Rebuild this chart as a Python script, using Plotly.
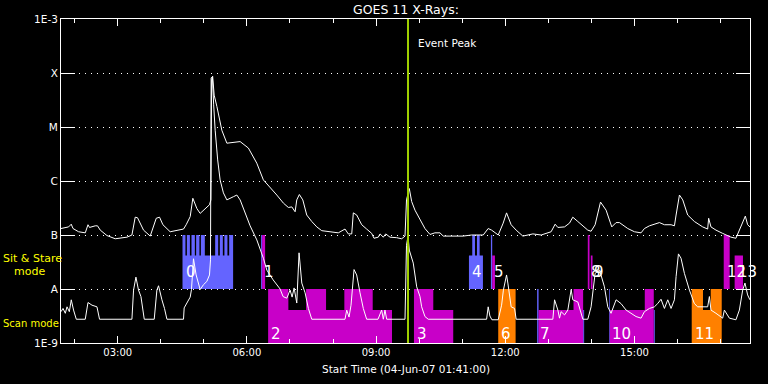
import numpy as np
import plotly.graph_objects as go

# ---------------- data ----------------
title_text = "GOES 11 X-Rays:"
x_title = "Start Time (04-Jun-07 01:41:00)"
start_clock = "01:41"
span_minutes = 960
x_tick_labels = ["03:00", "06:00", "09:00", "12:00", "15:00"]
y_tick_values = [1e-9, 1e-8, 1e-7, 1e-6, 1e-5, 1e-4, 1e-3]
y_tick_labels = ["1E-9", "A", "B", "C", "M", "X", "1E-3"]

# long channel (1-8 A): minutes after start, log10 flux (W/m^2)
long_min = [0, 6.0, 10.6, 14.3, 16.7, 24.5, 33.8, 37.6, 39.8, 47.7, 50.9, 54.7, 64.0, 75.6, 91.9,
            98.8, 103.4, 106.6, 115.0, 124.3, 132.7, 137.3, 142.0, 152.1, 166.1, 170.7, 174.4,
            180.0, 183.7, 189.3, 193.9, 200.9, 206.9, 208.8, 209.9, 211.3, 213.4, 217.2, 221.7,
            224.1, 231.1, 240.3, 249.6, 261.1, 272.8, 282.0, 291.3, 300.7, 309.9, 316.8, 321.6,
            326.2, 328.5, 332.1, 336.9, 342.4, 349.4, 356.4, 363.3, 374.9, 386.4, 395.7, 400.3,
            405.1, 407.3, 412.0, 419.0, 425.9, 432.9, 436.1, 442.1, 444.5, 449.1, 452.4, 458.4,
            467.7, 474.7, 479.3, 481.4, 485.3, 488.6, 493.2, 500.2, 507.1, 514.1, 521.0, 528.0,
            532.6, 541.9, 560.4, 572.1, 588.3, 595.2, 600.0, 609.2, 616.1, 620.8, 627.2, 634.2,
            643.5, 657.5, 669.0, 682.9, 688.5, 692.3, 701.6, 708.5, 713.1, 720.1, 734.0, 738.6,
            744.2, 751.7, 759.5, 767.4, 773.4, 778.1, 789.7, 799.0, 808.2, 812.9, 819.9, 833.8,
            840.8, 850.0, 854.7, 857.0, 861.7, 866.3, 873.2, 882.5, 894.1, 901.0, 902.4, 905.6,
            912.6, 921.9, 928.8, 933.5, 940.4, 945.2, 949.8, 953.5, 956.7, 959.9]
long_log = [-6.88, -6.86, -6.85, -6.80, -6.88, -6.94, -6.96, -6.81, -6.86, -6.83, -6.83, -6.91, -7.01,
            -7.07, -7.04, -7.00, -6.67, -6.68, -6.91, -7.02, -6.69, -6.67, -6.81, -6.94, -6.91, -6.89,
            -6.81, -6.66, -6.32, -6.51, -6.60, -6.51, -6.44, -6.35, -4.13, -4.06, -4.41, -4.62, -4.87,
            -5.06, -5.30, -5.29, -5.27, -5.39, -5.67, -5.98, -6.11, -6.26, -6.41, -6.49, -6.48, -6.57,
            -6.35, -6.25, -6.35, -6.63, -6.75, -6.85, -6.92, -6.94, -6.96, -6.89, -6.98, -6.98, -6.59,
            -6.63, -6.81, -6.89, -6.97, -7.06, -7.04, -6.98, -7.04, -6.98, -7.04, -7.05, -7.07, -7.02,
            -6.35, -6.14, -6.38, -6.54, -6.72, -6.88, -6.99, -6.96, -6.96, -7.02, -7.02, -7.02, -7.00,
            -7.00, -6.88, -6.91, -7.00, -6.78, -6.59, -6.81, -6.91, -7.02, -6.98, -7.00, -6.94, -6.80,
            -6.86, -6.85, -6.78, -6.67, -6.75, -6.91, -6.93, -6.81, -6.39, -6.54, -6.85, -6.77, -6.77,
            -6.88, -6.94, -6.96, -6.88, -6.83, -6.77, -6.81, -6.81, -6.83, -6.63, -6.26, -6.35, -6.63,
            -6.75, -6.85, -6.89, -6.69, -6.85, -6.91, -6.97, -7.02, -7.04, -7.06, -6.91, -6.78, -6.65,
            -6.81, -6.85]

# short channel (0.5-4 A)
short_min = [0, 2.8, 6.0, 8.4, 11.6, 14.3, 17.5, 21.3, 33.8, 37.6, 43.2, 50.1, 53.7, 98.8, 101.1,
             104.4, 108.0, 111.4, 116.0, 129.9, 133.6, 135.9, 140.6, 144.2, 147.6, 170.7, 171.6,
             180.0, 181.8, 184.6, 188.3, 193.9, 198.5, 203.2, 206.9, 208.3, 209.2, 211.0, 212.7,
             214.8, 218.3, 221.7, 226.3, 231.1, 240.3, 245.0, 249.6, 258.9, 263.5, 272.8, 282.0,
             286.8, 295.5, 305.3, 309.4, 314.6, 319.2, 322.0, 324.8, 328.5, 331.7, 335.5, 340.1,
             344.7, 349.4, 395.7, 398.1, 401.3, 404.1, 408.3, 412.0, 416.6, 421.2, 425.9, 441.7,
             446.8, 449.1, 451.4, 453.8, 479.3, 481.4, 483.5, 485.3, 490.8, 495.6, 500.2, 502.5,
             507.1, 511.7, 593.0, 595.2, 597.6, 600.4, 609.2, 613.9, 616.4, 618.5, 620.8, 622.6,
             627.2, 632.0, 634.2, 685.3, 687.7, 692.3, 694.6, 696.8, 701.6, 706.2, 710.8, 713.1,
             720.1, 727.1, 734.0, 738.6, 744.2, 750.4, 757.2, 761.8, 766.4, 773.4, 780.3, 787.3,
             794.2, 801.2, 808.2, 812.9, 819.9, 826.8, 831.4, 836.0, 840.8, 845.4, 850.0, 854.7,
             857.0, 860.3, 863.9, 868.6, 875.6, 882.5, 887.1, 901.0, 903.4, 905.6, 912.6, 921.9,
             924.3, 931.3, 940.4, 945.2, 949.8, 953.0, 956.7, 959.9]
short_log = [-8.42, -8.36, -8.45, -8.33, -8.42, -8.20, -8.39, -8.56, -8.56, -8.25, -8.30, -8.33, -8.56,
             -8.56, -8.02, -7.78, -8.02, -8.14, -8.56, -8.56, -8.02, -7.94, -8.20, -8.36, -8.56, -8.56,
             -8.35, -8.15, -8.01, -7.44, -7.74, -8.01, -7.92, -7.86, -7.74, -7.46, -4.09, -4.07, -4.59,
             -5.06, -5.61, -5.98, -6.22, -6.35, -6.29, -6.26, -6.35, -6.66, -6.83, -7.09, -7.43, -7.65,
             -7.83, -8.00, -8.14, -8.17, -8.02, -8.15, -7.98, -8.26, -7.33, -7.89, -8.07, -8.36, -8.56,
             -8.56, -8.39, -8.52, -8.30, -7.64, -7.74, -8.07, -8.36, -8.56, -8.56, -8.39, -8.56, -8.39,
             -8.56, -8.56, -7.19, -7.02, -7.28, -7.52, -7.96, -8.14, -8.33, -8.51, -8.56, -8.56, -8.33,
             -8.50, -8.57, -8.57, -8.30, -8.02, -7.89, -7.74, -7.89, -8.33, -8.36, -8.56, -8.56, -8.20,
             -8.39, -8.54, -8.42, -8.48, -8.39, -8.01, -8.20, -8.24, -8.56, -8.56, -8.33, -7.71, -7.65,
             -7.96, -8.33, -8.45, -8.20, -8.27, -8.39, -8.45, -8.51, -8.54, -8.42, -8.36, -8.33, -8.27,
             -8.19, -8.36, -8.20, -8.36, -8.20, -7.77, -7.35, -7.43, -7.71, -8.02, -8.27, -8.33, -8.33,
             -8.14, -8.39, -8.45, -8.54, -8.39, -8.54, -8.57, -8.39, -8.02, -7.89, -8.11, -8.20]

event_peak_min = 483.5
event_label = "Event Peak"

# observation segments: start/end (minutes after start), mode, coverage, kind
seg_start = [169.3, 169.3, 175.4, 181.8, 188.3, 194.9, 214.8, 221.3, 227.7, 234.3,
             278.8, 280.2,
             288.6, 316.8, 341.5, 369.3, 394.8, 434.3,
             491.8, 518.7,
             568.4, 573.0, 579.6,
             599.0, 600.8,
             609.2,
             663.4, 665.4, 714.1, 727.5,
             734.0, 738.2,
             763.7, 764.7, 813.4, 825.9,
             878.8, 894.5, 905.3,
             923.4, 938.6]
seg_end = [239.8, 173.4, 179.6, 186.5, 192.9, 200.4, 219.0, 225.5, 231.9, 239.8,
           280.2, 284.4,
           316.8, 341.5, 369.3, 394.8, 434.3, 461.2,
           518.7, 546.5,
           587.9, 576.8, 583.3,
           600.8, 604.6,
           633.4,
           665.4, 714.1, 727.5, 728.9,
           736.4, 740.6,
           764.7, 813.4, 825.9, 827.3,
           894.5, 905.3, 920.6,
           931.7, 950.2]
seg_mode = (["sit"] * 10 + ["sit"] * 2 + ["scan"] * 6 + ["scan"] * 2 + ["sit"] * 3 + ["sit"] * 2
            + ["scan"] + ["scan"] * 4 + ["sit"] * 2 + ["scan"] * 4 + ["scan"] * 3 + ["sit"] * 2)
seg_cover = (["low"] + ["full"] * 9 + ["full", "full"]
             + ["full", "low", "full", "low", "full", "low"] + ["full", "low"]
             + ["low", "full", "full"] + ["full", "low"] + ["full"]
             + ["full", "low", "full", "low"] + ["full", "low"]
             + ["full", "low", "full", "low"] + ["full", "low", "full"] + ["full", "low"])
seg_kind = (["b"] * 10 + ["b", "m"] + ["m"] * 6 + ["m"] * 2 + ["b"] * 3 + ["b", "m"] + ["o"]
            + ["b", "m", "m", "b"] + ["m", "m"] + ["b", "m", "m", "b"] + ["o"] * 3 + ["m", "m"])

block_ids = ["0", "1", "2", "3", "4", "5", "6", "7", "8", "9", "10", "11", "12", "13"]
block_start = [169.3, 278.8, 288.6, 491.8, 568.4, 599.0, 609.2, 663.4, 734.0, 738.2, 763.7, 878.8, 923.4, 938.6]
block_mode = ["sit", "sit", "scan", "scan", "sit", "sit", "scan", "scan", "sit", "sit", "scan", "scan", "sit", "sit"]

mode_labels = ["Sit & Stare", "mode", "Scan mode"]

# ---------------- styling ----------------
KIND_COLOR = {"b": "#6464ff", "m": "#c800c8", "o": "#ff8000"}
BAND = {("sit", "full"): (-8.0, -7.0), ("sit", "low"): (-8.0, -7.38),
        ("scan", "full"): (-9.0, -8.0), ("scan", "low"): (-9.0, -8.39)}
LABEL_Y = {"sit": -7.68, "scan": -8.83}
FONT = "DejaVu Sans"

fig = go.Figure()

for kind, color in KIND_COLOR.items():
    xs, ys = [], []
    for s, e, mo, cv, k in zip(seg_start, seg_end, seg_mode, seg_cover, seg_kind):
        if k != kind:
            continue
        lo, hi = BAND[(mo, cv)]
        xs += [s, e, e, s, s, None]
        ys += [10 ** lo, 10 ** lo, 10 ** hi, 10 ** hi, 10 ** lo, None]
    fig.add_trace(go.Scatter(x=xs, y=ys, mode="none", fill="toself", fillcolor=color,
                             hoverinfo="skip", showlegend=False))

fig.add_trace(go.Scatter(x=long_min, y=10 ** np.array(long_log), mode="lines",
                         line=dict(color="white", width=1), hoverinfo="skip", showlegend=False))
fig.add_trace(go.Scatter(x=short_min, y=10 ** np.array(short_log), mode="lines",
                         line=dict(color="white", width=1), hoverinfo="skip", showlegend=False))

fig.add_shape(type="line", xref="x", yref="paper", x0=event_peak_min, x1=event_peak_min,
              y0=0, y1=1, line=dict(color="#a0d000", width=2))

ann = []
for bid, bs, bm in zip(block_ids, block_start, block_mode):
    ann.append(dict(x=bs, y=LABEL_Y[bm], xref="x", yref="y", text=bid, showarrow=False,
                    xanchor="left", yanchor="middle", xshift=1,
                    font=dict(family=FONT, size=15, color="white")))
ann.append(dict(x=event_peak_min, y=0.926, xref="x", yref="paper", text=event_label,
                showarrow=False, xanchor="left", yanchor="middle", xshift=8,
                font=dict(family=FONT, size=10.5, color="white")))
ann.append(dict(x=0.5, y=1.030, xref="paper", yref="paper", text=title_text, showarrow=False,
                xanchor="center", yanchor="middle", font=dict(family=FONT, size=12.5, color="white")))
ann.append(dict(x=0.5, y=-0.080, xref="paper", yref="paper", text=x_title, showarrow=False,
                xanchor="center", yanchor="middle", font=dict(family=FONT, size=10.5, color="white")))
side_pos = [(-0.0875, -7.444, 11), (-0.0715, -7.68, 11), (-0.0875, -8.635, 10)]
for txt, (px, py, fs) in zip(mode_labels, side_pos):
    ann.append(dict(x=px, y=py, xref="paper", yref="y", text=txt, showarrow=False,
                    xanchor="left", yanchor="middle",
                    font=dict(family=FONT, size=fs, color="#ffff00")))

h0, m0 = map(int, start_clock.split(":"))
x_tick_vals = [int(t[:2]) * 60 + int(t[3:]) - (h0 * 60 + m0) for t in x_tick_labels]

fig.update_layout(
    width=768, height=384,
    margin=dict(l=61, r=18, t=19, b=41, autoexpand=False),
    paper_bgcolor="black", plot_bgcolor="black",
    showlegend=False,
    annotations=ann,
    xaxis=dict(range=[0, span_minutes], tickvals=x_tick_vals, ticktext=x_tick_labels,
               ticks="inside", ticklen=7, tickwidth=1, tickcolor="white",
               showline=True, linecolor="white", linewidth=1, mirror="allticks",
               showgrid=False, zeroline=False, automargin=False,
               tickfont=dict(family=FONT, size=10, color="white"),
               minor=dict(ticks="inside", ticklen=4, tickcolor="white", tickwidth=1,
                          tick0=x_tick_vals[0] - 60, dtick=60, showgrid=False)),
    yaxis=dict(type="log", range=[-9, -3], tickvals=y_tick_values, ticktext=y_tick_labels,
               ticks="inside", ticklen=14, tickwidth=1, tickcolor="white",
               showline=True, linecolor="white", linewidth=1, mirror="allticks",
               showgrid=True, gridcolor="white", gridwidth=1, griddash="1px,5px",
               layer="above traces", automargin=False,
               tickfont=dict(family=FONT, size=10.5, color="white")),
)

fig.write_html("out.html", config={"displayModeBar": False},
               post_script="document.body.style.margin='0';document.body.style.padding='0';")
